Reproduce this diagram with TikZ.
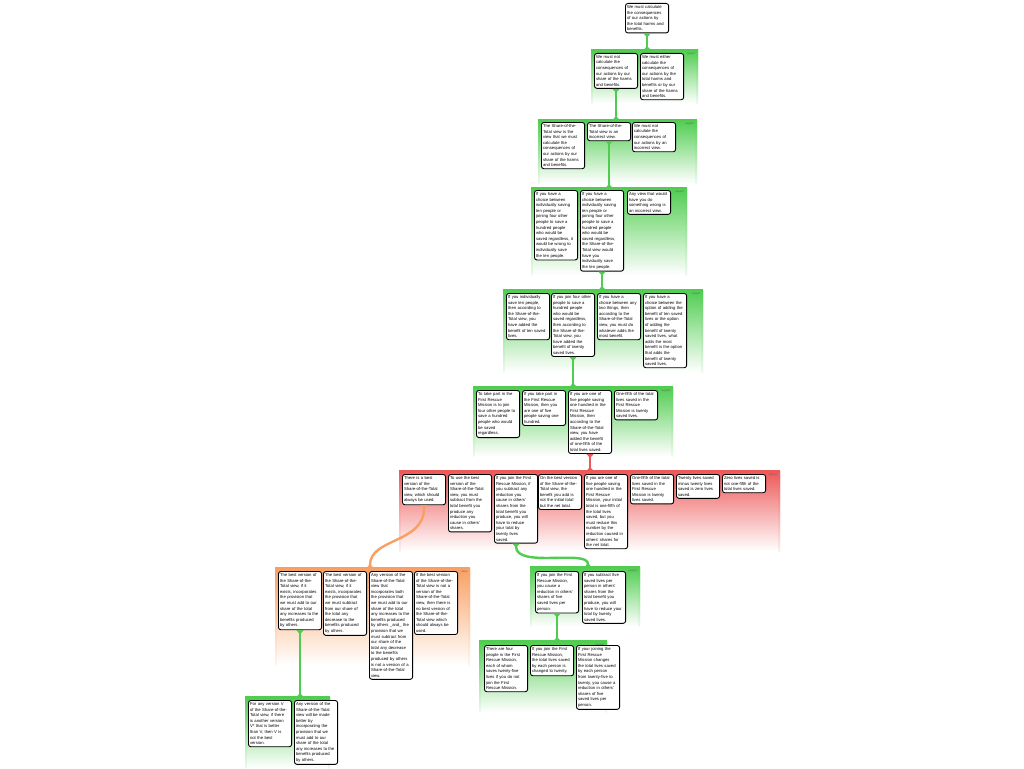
\documentclass[tikz,border=0pt]{standalone}
\usepackage{fontspec}
\newfontfamily\mapfont{Liberation Sans}
\usetikzlibrary{arrows.meta}
\definecolor{supportcol}{RGB}{80,205,80}
\definecolor{opposecol}{RGB}{238,88,88}
\definecolor{rebutcol}{RGB}{248,160,100}
\newcommand{\boxfont}{\mapfont\fontsize{4.2}{5.6}\selectfont}
\newcommand{\tagfont}{\mapfont\fontsize{2.6}{3}\selectfont}

\begin{document}
\begin{tikzpicture}[x=1pt, y=-1pt,
  claim/.style={draw, line width=0.9pt, rounded corners=2.5pt, fill=white, anchor=north west,
    text width=40pt, inner xsep=1.6pt, inner ysep=2pt, align=left, font=\boxfont},
  grp/.style={anchor=north west, inner sep=0pt, outer sep=0pt, top color=#1, bottom color=white},
  link/.style={line width=2.4pt, {Triangle[reversed, width=7pt, length=4pt]}-{Triangle[reversed, width=7pt, length=4pt]}}]
\useasboundingbox[fill=white] (0,0) rectangle (1024,768);

% groups of reasons
\node[grp=supportcol, minimum width=107pt, minimum height=53pt] (ga) at (591,50) {};
\node[grp=supportcol, minimum width=159pt, minimum height=63pt] (gb) at (538,120) {};
\node[grp=supportcol, minimum width=156pt, minimum height=87pt] (gc) at (531,188) {};
\node[grp=supportcol, minimum width=200pt, minimum height=82pt] (gd) at (503,290) {};
\node[grp=supportcol, minimum width=200pt, minimum height=69pt] (ge) at (473,387) {};
\node[grp=opposecol, minimum width=381pt, minimum height=80pt] (gf) at (399,471) {};
\node[grp=rebutcol, minimum width=195pt, minimum height=97pt] (gg) at (275,568) {};
\node[grp=supportcol, minimum width=110pt, minimum height=59pt] (gh) at (530,567) {};
\node[grp=supportcol, minimum width=128pt, minimum height=71pt] (gi) at (479,641) {};
\node[grp=supportcol, minimum width=85pt, minimum height=71pt] (gj) at (245,697) {};
\foreach \g/\c/\t in {ga/supportcol/support, gb/supportcol/support, gc/supportcol/support,
    gd/supportcol/support, ge/supportcol/support, gf/opposecol/oppose, gg/rebutcol/rebut,
    gh/supportcol/support, gi/supportcol/support, gj/supportcol/support}{
  \shade[top color=\c, bottom color=\c!10] (\g.north west) rectangle ([xshift=1.4pt]\g.south west);
  \shade[top color=\c, bottom color=\c!10] (\g.north east) rectangle ([xshift=-1.4pt]\g.south east);
  \draw[\c, line width=1.6pt] (\g.north west) -- (\g.north east);
  \node[anchor=north east, font=\tagfont, text=black!60, inner sep=1pt] (\g tag) at ([xshift=-1.5pt, yshift=-1.5pt]\g.north east) {\t};
}

% claims
\node[claim] (top) at (625,3) {We must calculate\\the consequences\\of our actions by\\the total harms and\\benefits.};

\node[claim] (a1) at (594,53) {We must not\\calculate the\\consequences of\\our actions by our\\share of the harms\\and benefits.};
\node[claim] (a2) at (640,53) {We must either\\calculate the\\consequences of\\our actions by the\\total harms and\\benefits or by our\\share of the harms\\and benefits.};

\node[claim] (b1) at (541,122) {The Share-of-the-\\Total view is the\\view that we must\\calculate the\\consequences of\\our actions by our\\share of the harms\\and benefits.};
\node[claim] (b2) at (587,122) {The Share-of-the-\\Total view is an\\incorrect view.};
\node[claim] (b3) at (632,122) {We must not\\calculate the\\consequences of\\our actions by an\\incorrect view.};

\node[claim] (c1) at (534,190) {If you have a\\choice between\\individually saving\\ten people or\\joining four other\\people to save a\\hundred people\\who would be\\saved regardless, it\\would be wrong to\\individually save\\the ten people.};
\node[claim] (c2) at (580,190) {If you have a\\choice between\\individually saving\\ten people or\\joining four other\\people to save a\\hundred people\\who would be\\saved regardless,\\the Share-of-the-\\Total view would\\have you\\individually save\\the ten people.};
\node[claim] (c3) at (627,190) {Any view that would\\have you do\\something wrong is\\an incorrect view.};

\node[claim] (d1) at (506,293) {If you individually\\save ten people,\\then according to\\the Share-of-the-\\Total view, you\\have added the\\benefit of ten saved\\lives.};
\node[claim] (d2) at (551,293) {If you join four other\\people to save a\\hundred people\\who would be\\saved regardless,\\then according to\\the Share-of-the-\\Total view, you\\have added the\\benefit of twenty\\saved lives.};
\node[claim] (d3) at (597,293) {If you have a\\choice between any\\two things, then\\according to the\\Share-of-the-Total\\view, you must do\\whatever adds the\\most benefit.};
\node[claim] (d4) at (643,293) {If you have a\\choice between the\\option of adding the\\benefit of ten saved\\lives or the option\\of adding the\\benefit of twenty\\saved lives, what\\adds the most\\benefit is the option\\that adds the\\benefit of twenty\\saved lives.};

\node[claim] (e1) at (476,390) {To take part in the\\First Rescue\\Mission is to join\\four other people to\\save a hundred\\people who would\\be saved\\regardless.};
\node[claim] (e2) at (522,390) {If you take part in\\the First Rescue\\Mission, then you\\are one of five\\people saving one\\hundred.};
\node[claim] (e3) at (568,390) {If you are one of\\five people saving\\one hundred in the\\First Rescue\\Mission, then\\according to the\\Share-of-the-Total\\view, you have\\added the benefit\\of one-fifth of the\\total lives saved.};
\node[claim] (e4) at (614,390) {One-fifth of the total\\lives saved in the\\First Rescue\\Mission is twenty\\saved lives.};

\node[claim] (f1) at (402,474) {There is a best\\version of the\\Share-of-the-Total\\view, which should\\always be used.};
\node[claim] (f2) at (448,474) {To use the best\\version of the\\Share-of-the-Total\\view, you must\\subtract from the\\total benefit you\\produce any\\reduction you\\cause in others'\\shares.};
\node[claim] (f3) at (494,474) {If you join the First\\Rescue Mission, if\\you subtract any\\reduction you\\cause in others'\\shares from the\\total benefit you\\produce, you will\\have to reduce\\your total by\\twenty lives\\saved.};
\node[claim] (f4) at (538,474) {On the best version\\of the Share-of-the-\\Total view, the\\benefit you add is\\not the initial total\\but the net total.};
\node[claim] (f5) at (584,474) {If you are one of\\five people saving\\one hundred in the\\First Rescue\\Mission, your initial\\total is one-fifth of\\the total lives\\saved, but you\\must reduce this\\number by the\\reduction caused in\\others' shares for\\the net total.};
\node[claim] (f6) at (630,474) {One-fifth of the total\\lives saved in the\\First Rescue\\Mission is twenty\\lives saved.};
\node[claim] (f7) at (676,474) {Twenty lives saved\\minus twenty lives\\saved is zero lives\\saved.};
\node[claim] (f8) at (722,474) {Zero lives saved is\\not one-fifth of the\\total lives saved.};

\node[claim] (g1) at (278,571) {The best version of\\the Share-of-the-\\Total view, if it\\exists, incorporates\\the provision that\\we must add to our\\share of the total\\any increases to the\\benefits produced\\by others.};
\node[claim] (g2) at (323,571) {The best version of\\the Share-of-the-\\Total view, if it\\exists, incorporates\\the provision that\\we must subtract\\from our share of\\the total any\\decrease to the\\benefits produced\\by others.};
\node[claim] (g3) at (369,571) {Any version of the\\Share-of-the-Total\\view that\\incorporates both\\the provision that\\we must add to our\\share of the total\\any increases to the\\benefits produced\\by others \_and\_ the\\provision that we\\must subtract from\\our share of the\\total any decrease\\to the benefits\\produced by others\\is not a version of a\\Share-of-the-Total\\view.};
\node[claim] (g4) at (414,571) {If the best version\\of the Share-of-the-\\Total view is not a\\version of the\\Share-of-the-Total\\view, then there is\\no best version of\\the Share-of-the-\\Total view which\\should always be\\used.};

\node[claim] (h1) at (535,571) {If you join the First\\Rescue Mission,\\you cause a\\reduction in others'\\shares of five\\saved lives per\\person.};
\node[claim] (h2) at (582,571) {If you subtract five\\saved lives per\\person in others'\\shares from the\\total benefit you\\produce, you will\\have to reduce your\\total by twenty\\saved lives.};

\node[claim] (i1) at (484,645) {There are four\\people in the First\\Rescue Mission,\\each of whom\\saves twenty-five\\lives if you do not\\join the First\\Rescue Mission.};
\node[claim] (i2) at (530,645) {If you join the First\\Rescue Mission,\\the total lives saved\\by each person is\\changed to twenty.};
\node[claim] (i3) at (576,645) {If your joining the\\First Rescue\\Mission changes\\the total lives saved\\by each person\\from twenty-five to\\twenty, you cause a\\reduction in others'\\shares of five\\saved lives per\\person.};

\node[claim] (j1) at (248,700) {For any version V\\of the Share-of-the-\\Total view, if there\\is another version\\V* that is better\\than V, then V is\\not the best\\version.};
\node[claim] (j2) at (294,700) {Any version of the\\Share-of-the-Total\\view will be made\\better by\\incorporating the\\provision that we\\must add to our\\share of the total\\any increases to the\\benefits produced\\by others.};

% links
\coordinate (ggin) at ([xshift=95pt]gg.north west);
\coordinate (ghin) at ([xshift=58pt]gh.north west);
\draw[link, supportcol] (top.south) -- (top.south |- ga.north);
\draw[link, supportcol] (a1.south) -- (a1.south |- gb.north);
\draw[link, supportcol] (b2.south) -- (b2.south |- gc.north);
\draw[link, supportcol] (c2.south) -- (c2.south |- gd.north);
\draw[link, supportcol] (d2.south) -- (d2.south |- ge.north);
\draw[link, opposecol] (e3.south) -- (e3.south |- gf.north);
\draw[link, rebutcol] (f1.south) .. controls +(0,38) and +(0,-30) .. (ggin);
\draw[link, supportcol] (f3.south) .. controls +(0,25) and +(0,-18) .. (ghin);
\draw[link, supportcol] (g1.south) -- (g1.south |- gj.north);
\draw[link, supportcol] (h1.south) -- (h1.south |- gi.north);
\end{tikzpicture}
\end{document}
